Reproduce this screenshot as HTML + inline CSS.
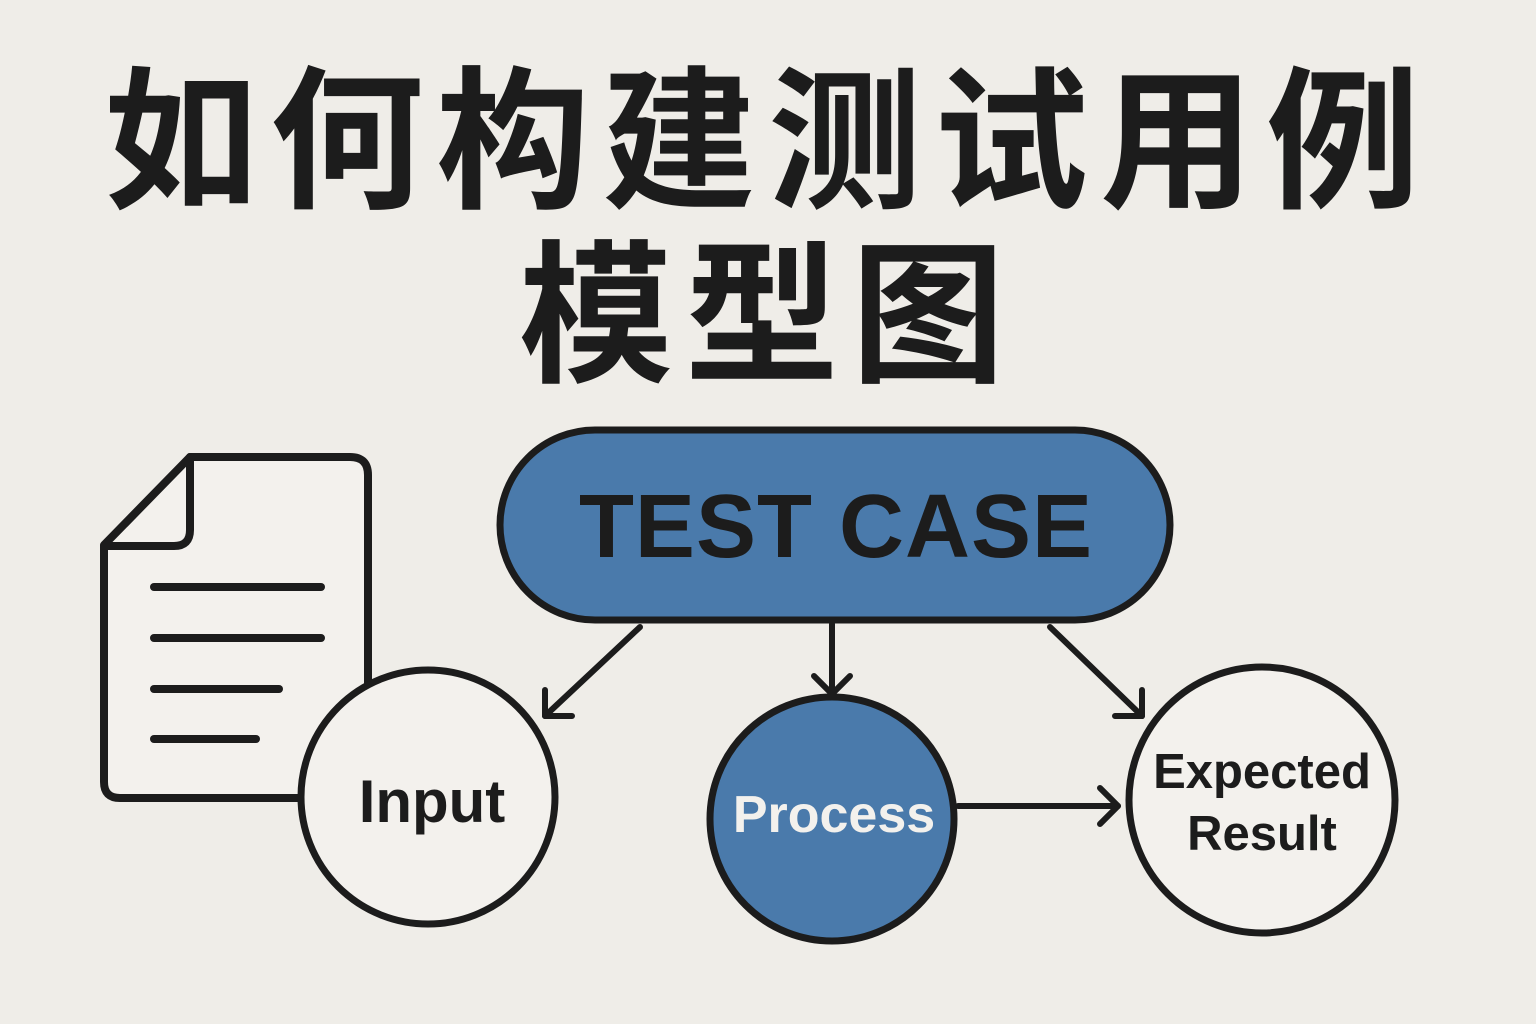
<!DOCTYPE html>
<html><head><meta charset="utf-8"><style>
html,body{margin:0;padding:0;background:#efede8;}
body{width:1536px;height:1024px;position:relative;overflow:hidden;}
.t{position:absolute;left:0;width:1536px;text-align:center;font-family:"Liberation Sans","Noto Sans CJK SC",sans-serif;font-weight:700;color:#1c1c1c;}
</style></head><body>
<div class="t" style="top:58px;font-size:154px;line-height:170px;letter-spacing:12px;">如何构建测试用例</div>
<div class="t" style="top:232px;font-size:154px;line-height:170px;letter-spacing:12px;">模型图</div>
<svg width="1536" height="1024" style="position:absolute;left:0;top:0" font-family="Liberation Sans, sans-serif">
<g stroke="#1c1c1c" stroke-width="8" stroke-linejoin="round" stroke-linecap="round">
<path d="M190 457 H350 Q368 457 368 475 V798 H120 Q104 798 104 782 V545 Z" fill="#f3f1ed"/>
<path d="M190 457 V530 Q190 546 174 546 H104" fill="none"/>
<line x1="154" y1="587" x2="321" y2="587"/>
<line x1="154" y1="638" x2="321" y2="638"/>
<line x1="154" y1="689" x2="279" y2="689"/>
<line x1="154" y1="739" x2="256" y2="739"/>
<rect x="500" y="430" width="670" height="190" rx="95" fill="#4a7aab" stroke-width="7"/>
<circle cx="428" cy="797" r="127" fill="#f3f1ed" stroke-width="7"/>
<circle cx="832" cy="819" r="122" fill="#4a7aab" stroke-width="7"/>
<circle cx="1262" cy="800" r="133" fill="#f3f1ed" stroke-width="7"/>
<g fill="none" stroke-width="6">
<line x1="640" y1="627" x2="545" y2="716"/><path d="M545 690 V716 H572"/>
<line x1="832" y1="624" x2="832" y2="692"/><path d="M814 676 L832 694 L850 676"/>
<line x1="1050" y1="627" x2="1142" y2="716"/><path d="M1115 716 H1142 V690"/>
<line x1="958" y1="806" x2="1118" y2="806"/><path d="M1100 788 L1118 806 L1100 824"/>
</g>
</g>
<text x="836" y="557" text-anchor="middle" font-size="90" font-weight="bold" fill="#1c1c1c" letter-spacing="1">TEST CASE</text>
<text x="432" y="822" text-anchor="middle" font-size="60" font-weight="bold" fill="#1c1c1c">Input</text>
<text x="834" y="832" text-anchor="middle" font-size="52" font-weight="bold" fill="#f3f1ed">Process</text>
<text x="1262" y="788" text-anchor="middle" font-size="49" font-weight="bold" fill="#1c1c1c">Expected</text>
<text x="1262" y="850" text-anchor="middle" font-size="49" font-weight="bold" fill="#1c1c1c">Result</text>
</svg>
</body></html>
